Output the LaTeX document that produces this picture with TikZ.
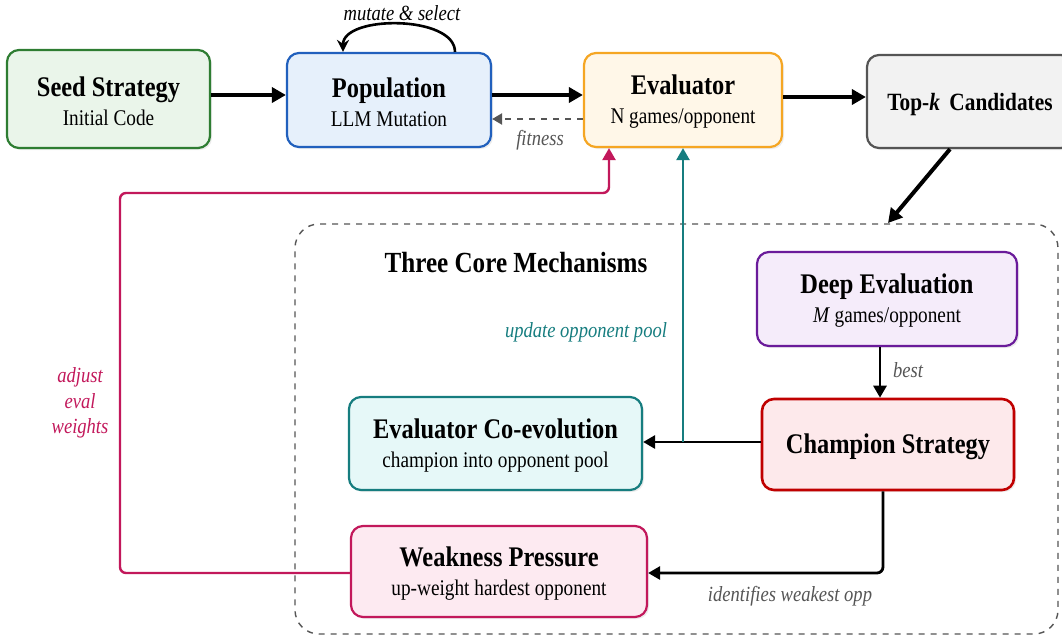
\documentclass[tikz,border=0pt]{standalone}
\usepackage{fontspec}
\setmainfont[FakeStretch=0.86]{Liberation Serif}
\usetikzlibrary{arrows.meta,calc,shadows}
\definecolor{seedline}{HTML}{2E7D32}\definecolor{seedfill}{HTML}{EAF5EA}
\definecolor{popline}{HTML}{2160BD}\definecolor{popfill}{HTML}{E6F0FB}
\definecolor{evalline}{HTML}{F5A623}\definecolor{evalfill}{HTML}{FFF7E8}
\definecolor{topline}{HTML}{555555}\definecolor{topfill}{HTML}{F2F2F2}
\definecolor{deepline}{HTML}{6A1B9A}\definecolor{deepfill}{HTML}{F5ECFA}
\definecolor{champline}{HTML}{C00000}\definecolor{champfill}{HTML}{FDE9EB}
\definecolor{coline}{HTML}{167D7F}\definecolor{cofill}{HTML}{E6F8F8}
\definecolor{weakline}{HTML}{C2185B}\definecolor{weakfill}{HTML}{FDEAF1}
\definecolor{lblgray}{HTML}{555555}
\newcommand{\boxtitle}[1]{{\fontsize{14.2}{16}\selectfont\bfseries\rule{0pt}{11.8pt}#1}}
\newcommand{\boxsub}[1]{{\fontsize{11.2}{13}\selectfont #1}}
\tikzset{box/.style={draw, rounded corners=6pt, line width=1.1pt, align=center, inner sep=0pt,
    font=\fontsize{10}{12}\selectfont,
    drop shadow={opacity=0.15,shadow xshift=1pt,shadow yshift=-1pt}}}
\tikzset{flow/.style={-{Triangle[length=7pt,width=7.5pt]}, line width=2pt}}
\tikzset{inflow/.style={-{Triangle[length=6pt,width=6.5pt]}, line width=1.4pt}}
\tikzset{lbl/.style={font=\fontsize{10.8}{12.75}\selectfont\itshape, align=center}}

\begin{document}
\begin{tikzpicture}[x=0.5pt,y=-0.5pt]
  \useasboundingbox (0,0) rectangle (1062,638);
  % top row
  \node[box, draw=seedline, fill=seedfill, minimum width=101.5pt, minimum height=49pt] (seed) at (108.5,99)
    {\boxtitle{Seed Strategy}\\[2.5pt]\boxsub{Initial Code}};
  \node[box, draw=popline, fill=popfill, minimum width=102pt, minimum height=47pt] (pop) at (389,100)
    {\boxtitle{Population}\\[2.5pt]\boxsub{LLM Mutation}};
  \node[box, draw=evalline, fill=evalfill, minimum width=99pt, minimum height=47pt] (eval) at (683,100)
    {\boxtitle{Evaluator}\\[2.5pt]\boxsub{N games/opponent}};
  \node[box, draw=topline, fill=topfill, minimum width=103pt, minimum height=46.5pt] (topk) at (970,101.5)
    {\boxtitle{\fontsize{12.4}{14}\selectfont Top-\textit{k}\ \,Candidates}};
  % mechanisms frame
  \node[draw=lblgray, dashed, line width=0.7pt, rounded corners=12pt, minimum width=381.5pt, minimum height=205pt] (mech) at (676.5,429) {};
  \node[font=\fontsize{14.6}{16}\selectfont\bfseries] (mechtitle) at (516,263) {Three Core Mechanisms};
  \node[box, draw=deepline, fill=deepfill, minimum width=130pt, minimum height=47pt] (deep) at (887,299)
    {\boxtitle{Deep Evaluation}\\[2.5pt]\boxsub{\textit{M} games/opponent}};
  \node[box, draw=champline, fill=champfill, minimum width=126pt, minimum height=45.5pt, line width=1.3pt] (champ) at (888,444.5)
    {\boxtitle{Champion Strategy}};
  \node[box, draw=coline, fill=cofill, minimum width=146.5pt, minimum height=46.5pt] (coevo) at (495.5,443.5)
    {\boxtitle{Evaluator Co-evolution}\\[2.5pt]\boxsub{champion into opponent pool}};
  \node[box, draw=weakline, fill=weakfill, minimum width=148pt, minimum height=45.5pt] (weak) at (499,571.5)
    {\boxtitle{Weakness Pressure}\\[2.5pt]\boxsub{up-weight hardest opponent}};
  % labels
  \node[lbl] (mutlbl) at (402,13) {mutate \& select};
  \node[lbl, text=lblgray] (fitlbl) at (540,140) {fitness};
  \node[lbl, text=coline] (poollbl) at (586,332) {update opponent pool};
  \node[lbl, text=lblgray] (bestlbl) at (908,370) {best};
  \node[lbl, text=lblgray] (weaklbl) at (790,596) {identifies weakest opp};
  \node[lbl, text=weakline] (adjlbl) at (80,403) {adjust\\eval\\weights};
  % main flow
  \draw[flow] ($(seed.east)+(0,-4)$) -- ($(pop.west)+(0,-5)$);
  \draw[flow] ($(pop.east)+(0,-5)$) -- ($(eval.west)+(0,-5)$);
  \draw[flow] ($(eval.east)+(0,-3)$) -- ($(topk.west)+(0,-4.5)$);
  \draw[-{Triangle[length=5pt,width=5.5pt]}, dashed, line width=1.1pt, lblgray] ($(eval.west)+(0,19)$) -- ($(pop.east)+(0,19)$);
  \draw[-{Stealth[length=6pt,width=6pt]}, line width=1.3pt] ($(pop.north)+(66,0)$) .. controls ($(pop.north)+(66,-37)$) and ($(pop.north)+(-46,-37)$) .. ($(pop.north)+(-46,0)$);
  \coordinate (mechin) at (888,223);
  \draw[flow] ($(topk.south)+(-20,0)$) -- (mechin);
  % inner flow
  \draw[inflow] ($(deep.south)+(-7,0)$) -- ($(champ.north)+(-8,0)$);
  \coordinate (champout) at ($(champ.west)+(0,-2.5)$);
  \draw[inflow] (champout) -- (champout -| coevo.east);
  \draw[inflow, rounded corners=3pt] ($(champ.south)+(-5,0)$) |- ($(weak.east)+(0,1.5)$);
  % feedback loops
  \draw[-{Triangle[length=6pt,width=6.5pt]}, line width=1.2pt, coline] (eval.south |- champout) -- (eval.south);
  \draw[-{Triangle[length=6pt,width=6.5pt]}, line width=1.2pt, weakline, rounded corners=3pt]
    ($(weak.west)+(0,1.5)$) -| (120,193) -| ($(eval.south)+(-74,0)$);
\end{tikzpicture}
\end{document}
